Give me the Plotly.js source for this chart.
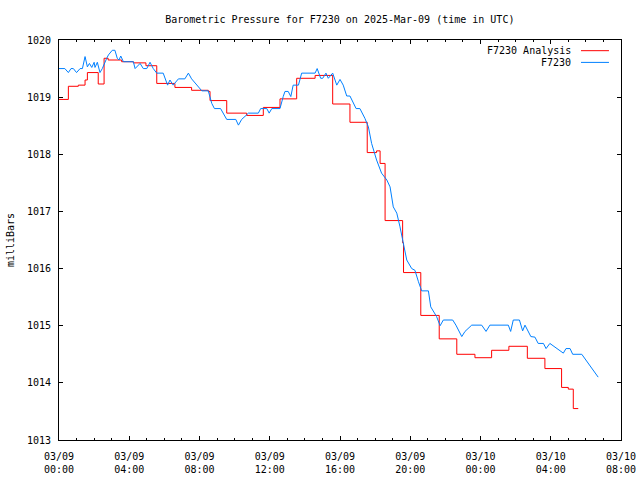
<!DOCTYPE html>
<html>
<head>
<meta charset="utf-8">
<script src="https://cdn.plot.ly/plotly-3.0.1.min.js"></script>
<style>html,body{margin:0;padding:0;background:#fff;}#chart{width:640px;height:480px;}</style>
</head>
<body>
<div id="chart"></div>
<script>
// Station observations (F7230), time in UTC
const obsTime = [
 "2025-03-09 00:00","2025-03-09 00:20","2025-03-09 00:32","2025-03-09 00:41","2025-03-09 00:49",
 "2025-03-09 01:00","2025-03-09 01:12","2025-03-09 01:20","2025-03-09 01:29","2025-03-09 01:37",
 "2025-03-09 01:44","2025-03-09 01:52","2025-03-09 02:00","2025-03-09 02:03","2025-03-09 02:11",
 "2025-03-09 02:20","2025-03-09 02:28","2025-03-09 02:37","2025-03-09 02:43","2025-03-09 02:49",
 "2025-03-09 03:02","2025-03-09 03:11","2025-03-09 03:19","2025-03-09 03:25","2025-03-09 03:31",
 "2025-03-09 03:40","2025-03-09 04:14","2025-03-09 04:20","2025-03-09 04:37","2025-03-09 04:48",
 "2025-03-09 05:00","2025-03-09 05:11","2025-03-09 05:22","2025-03-09 05:34","2025-03-09 05:56",
 "2025-03-09 06:11","2025-03-09 06:19","2025-03-09 06:30","2025-03-09 06:48","2025-03-09 07:10",
 "2025-03-09 07:22","2025-03-09 07:33","2025-03-09 07:50","2025-03-09 08:08","2025-03-09 08:30",
 "2025-03-09 08:36","2025-03-09 08:42","2025-03-09 08:51","2025-03-09 09:12","2025-03-09 09:33",
 "2025-03-09 10:04","2025-03-09 10:13","2025-03-09 10:24","2025-03-09 10:41","2025-03-09 10:47",
 "2025-03-09 11:21","2025-03-09 11:29","2025-03-09 11:50","2025-03-09 11:58","2025-03-09 12:07",
 "2025-03-09 12:35","2025-03-09 12:46","2025-03-09 12:52","2025-03-09 13:03","2025-03-09 13:12",
 "2025-03-09 13:20","2025-03-09 13:38","2025-03-09 13:49","2025-03-09 14:35","2025-03-09 14:42",
 "2025-03-09 14:54","2025-03-09 15:01","2025-03-09 15:12","2025-03-09 15:20","2025-03-09 15:35",
 "2025-03-09 15:49","2025-03-09 16:00","2025-03-09 16:11","2025-03-09 16:23","2025-03-09 16:34",
 "2025-03-09 16:55","2025-03-09 17:08","2025-03-09 17:25","2025-03-09 17:37","2025-03-09 17:48",
 "2025-03-09 18:05","2025-03-09 18:22","2025-03-09 18:40","2025-03-09 18:51","2025-03-09 19:02",
 "2025-03-09 19:14","2025-03-09 19:25","2025-03-09 19:34","2025-03-09 19:48","2025-03-09 20:05",
 "2025-03-09 20:16","2025-03-09 20:28","2025-03-09 20:39","2025-03-09 21:02","2025-03-09 21:10",
 "2025-03-09 21:30","2025-03-09 21:42","2025-03-09 21:53","2025-03-09 22:25","2025-03-09 22:36",
 "2025-03-09 22:56","2025-03-09 23:07","2025-03-09 23:30","2025-03-10 00:04","2025-03-10 00:19",
 "2025-03-10 00:32","2025-03-10 01:35","2025-03-10 01:43","2025-03-10 01:52","2025-03-10 02:13",
 "2025-03-10 02:24","2025-03-10 02:32","2025-03-10 02:52","2025-03-10 03:06","2025-03-10 03:17",
 "2025-03-10 03:35","2025-03-10 03:44","2025-03-10 03:57","2025-03-10 04:20","2025-03-10 04:43",
 "2025-03-10 04:52","2025-03-10 05:06","2025-03-10 05:15","2025-03-10 05:46","2025-03-10 06:00",
 "2025-03-10 06:25","2025-03-10 06:42"
];
const obsPressure = [
 1019.50,1019.50,1019.43,1019.50,1019.50,
 1019.43,1019.50,1019.50,1019.71,1019.53,
 1019.59,1019.52,1019.61,1019.52,1019.61,
 1019.43,1019.50,1019.62,1019.68,1019.74,
 1019.82,1019.82,1019.68,1019.65,1019.72,
 1019.62,1019.62,1019.50,1019.59,1019.50,
 1019.50,1019.61,1019.50,1019.42,1019.42,
 1019.21,1019.30,1019.21,1019.32,1019.32,
 1019.42,1019.32,1019.21,1019.11,1019.11,
 1018.98,1018.89,1018.80,1018.80,1018.61,
 1018.61,1018.51,1018.61,1018.69,1018.72,
 1018.72,1018.80,1018.80,1018.72,1018.80,
 1018.80,1019.01,1019.10,1019.10,1019.01,
 1019.21,1019.21,1019.42,1019.42,1019.50,
 1019.33,1019.33,1019.42,1019.33,1019.42,
 1019.21,1019.31,1019.21,1019.02,1019.02,
 1018.80,1018.80,1018.63,1018.48,1018.19,
 1017.90,1017.67,1017.55,1017.43,1017.08,
 1016.97,1016.73,1016.50,1016.15,1016.00,
 1015.97,1015.77,1015.61,1015.61,1015.33,
 1015.16,1015.00,1015.10,1015.10,1015.01,
 1014.81,1014.90,1015.01,1015.01,1014.90,
 1015.01,1015.01,1014.90,1015.10,1015.10,
 1014.91,1015.01,1014.81,1014.80,1014.69,
 1014.69,1014.60,1014.69,1014.60,1014.52,
 1014.60,1014.60,1014.50,1014.50,1014.40,
 1014.23,1014.10
];
// Analysis (step values held until next time)
const anaTime = [
 "2025-03-09 00:00","2025-03-09 00:32","2025-03-09 01:06","2025-03-09 01:29","2025-03-09 01:37",
 "2025-03-09 02:14","2025-03-09 02:34","2025-03-09 02:48","2025-03-09 03:34","2025-03-09 04:14",
 "2025-03-09 04:57","2025-03-09 05:34","2025-03-09 06:36","2025-03-09 07:33","2025-03-09 08:30",
 "2025-03-09 08:36","2025-03-09 09:33","2025-03-09 10:41","2025-03-09 11:38","2025-03-09 12:35",
 "2025-03-09 13:32","2025-03-09 14:35","2025-03-09 15:35","2025-03-09 16:34","2025-03-09 17:33",
 "2025-03-09 18:05","2025-03-09 18:17","2025-03-09 18:34","2025-03-09 19:34","2025-03-09 19:37",
 "2025-03-09 20:36","2025-03-09 21:39","2025-03-09 22:39","2025-03-09 23:41","2025-03-10 00:38",
 "2025-03-10 01:37","2025-03-10 02:40","2025-03-10 03:40","2025-03-10 04:37","2025-03-10 05:00",
 "2025-03-10 05:17","2025-03-10 05:34"
];
const anaPressure = [
 1018.96,1019.19,1019.21,1019.30,1019.43,
 1019.23,1019.68,1019.65,1019.62,1019.60,
 1019.55,1019.24,1019.17,1019.12,1019.10,
 1018.94,1018.72,1018.68,1018.82,1018.97,
 1019.33,1019.38,1018.88,1018.56,1018.03,
 1018.06,1017.84,1016.84,1016.45,1015.93,
 1015.18,1014.77,1014.50,1014.44,1014.57,
 1014.64,1014.43,1014.25,1013.92,1013.89,
 1013.55,1013.55
];
const tickVals = ["2025-03-09 00:00","2025-03-09 04:00","2025-03-09 08:00","2025-03-09 12:00",
 "2025-03-09 16:00","2025-03-09 20:00","2025-03-10 00:00","2025-03-10 04:00","2025-03-10 08:00"];
const tickText = ["03/09<br>00:00","03/09<br>04:00","03/09<br>08:00","03/09<br>12:00",
 "03/09<br>16:00","03/09<br>20:00","03/10<br>00:00","03/10<br>04:00","03/10<br>08:00"];
const seriesNames = ["F7230 Analysis","F7230"];

const FONT = "DejaVu Sans Mono, Liberation Mono, monospace";
const traces = [
 {x: anaTime, y: anaPressure, type: "scatter", mode: "lines", name: seriesNames[0],
  line: {color: "#ff0000", width: 1, shape: "hv"}},
 {x: obsTime, y: obsPressure, type: "scatter", mode: "lines", name: seriesNames[1],
  line: {color: "#0080ff", width: 1}}
];
const layout = {
 width: 640, height: 480,
 margin: {l: 59, r: 19, t: 40, b: 40},
 paper_bgcolor: "#fff", plot_bgcolor: "#fff",
 font: {family: FONT, size: 10, color: "#000"},
 showlegend: false,
 title: {text: "Barometric Pressure for F7230 on 2025-Mar-09 (time in UTC)",
  x: 0.531, xanchor: "center", y: 0.96, yanchor: "middle", font: {family: FONT, size: 10}},
 xaxis: {type: "date", range: ["2025-03-09 00:00", "2025-03-10 08:00"],
  tickmode: "array", tickvals: tickVals, ticktext: tickText,
  ticks: "inside", ticklen: 4, tickcolor: "#000", showgrid: false, zeroline: false,
  showline: true, linecolor: "#000", linewidth: 1, mirror: "ticks",
  minor: {dtick: 3600000, tick0: "2025-03-09 00:00", ticks: "inside", ticklen: 2, tickcolor: "#000", showgrid: false},
  ticklabelstandoff: 7, tickfont: {family: FONT, size: 10}},
 yaxis: {range: [1013, 1020], dtick: 1, tick0: 1013,
  ticks: "inside", ticklen: 4, tickcolor: "#000", showgrid: false, zeroline: false,
  showline: true, linecolor: "#000", linewidth: 1, mirror: "ticks",
  ticklabelstandoff: 5, tickfont: {family: FONT, size: 10},
  title: {text: "milliBars", font: {family: FONT, size: 10}, standoff: 10}},
 annotations: [
  {xref: "paper", yref: "paper", x: 0.9146, y: 0.9733, xanchor: "right", yanchor: "middle",
   text: seriesNames[0], showarrow: false, font: {family: FONT, size: 10}},
  {xref: "paper", yref: "paper", x: 0.9146, y: 0.944, xanchor: "right", yanchor: "middle",
   text: seriesNames[1], showarrow: false, font: {family: FONT, size: 10}}
 ],
 shapes: [
  {type: "line", xref: "paper", yref: "paper", x0: 0.9288, x1: 0.9786, y0: 0.9733, y1: 0.9733,
   line: {color: "#ff0000", width: 1}},
  {type: "line", xref: "paper", yref: "paper", x0: 0.9288, x1: 0.9786, y0: 0.944, y1: 0.944,
   line: {color: "#0080ff", width: 1}}
 ]
};
Plotly.newPlot("chart", traces, layout, {staticPlot: true, displayModeBar: false});
</script>
</body>
</html>
